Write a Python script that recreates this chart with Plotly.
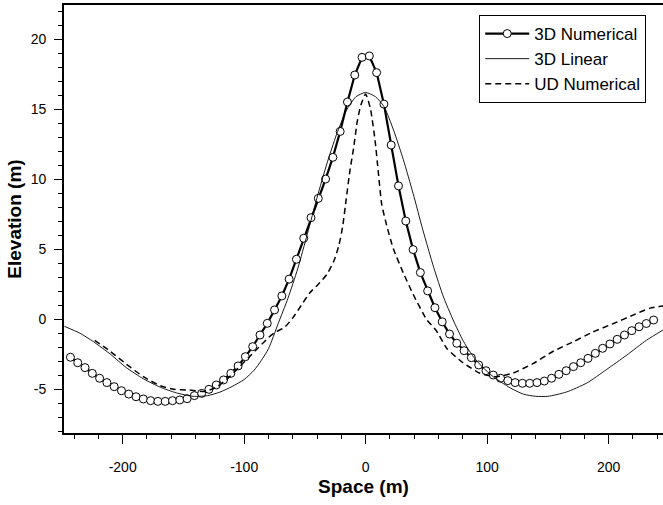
import plotly.graph_objects as go

# ---- data ----
num3d_x = [-243, -237, -231, -225, -219, -213, -207, -201, -195, -189, -183, -177, -171, -165,
           -159, -153, -147, -141, -135, -129, -123, -117, -111, -105, -99, -93, -87, -81, -75,
           -69, -63, -57, -51, -45, -39, -33, -27, -21, -15, -9, -3, 3, 9, 15, 21, 27, 33, 39,
           45, 51, 57, 63, 69, 75, 81, 87, 93, 99, 105, 111, 117, 123, 129, 135, 141, 147, 153,
           159, 165, 171, 177, 183, 189, 195, 201, 207, 213, 219, 225, 231, 237]
num3d_y = [-2.71, -3.10, -3.45, -3.86, -4.21, -4.52, -4.81, -5.10, -5.34, -5.53, -5.69, -5.81,
           -5.86, -5.86, -5.81, -5.76, -5.67, -5.45, -5.29, -5.00, -4.69, -4.33, -3.86, -3.33,
           -2.67, -1.95, -1.12, -0.29, 0.67, 1.67, 2.87, 4.29, 5.79, 7.26, 8.64, 10.02, 11.57,
           13.42, 15.52, 17.45, 18.71, 18.81, 17.62, 15.37, 12.45, 9.53, 7.02, 4.98, 3.34, 2.03,
           0.83, -0.18, -1.05, -1.71, -2.24, -2.74, -3.26, -3.67, -3.98, -4.21, -4.38, -4.52,
           -4.57, -4.57, -4.52, -4.41, -4.21, -3.93, -3.67, -3.38, -3.10, -2.79, -2.43, -2.07,
           -1.76, -1.43, -1.12, -0.81, -0.53, -0.30, -0.05]

lin3d_x = [-248, -235, -224, -210, -197, -183, -169, -156, -142, -130, -120, -110, -100, -92,
           -86, -80, -72, -64, -56, -48, -40, -32, -24, -16, -8, 0, 8, 15, 23, 31, 39, 47, 56,
           64, 72, 80, 88, 96, 105, 119, 130, 140, 150, 165, 182, 198, 215, 231, 245]
lin3d_y = [-0.5, -1.0, -1.6, -2.5, -3.45, -4.25, -4.85, -5.25, -5.5, -5.45, -5.2, -4.8, -4.3,
           -3.65, -2.95, -2.1, -0.3, 1.5, 3.6, 6.1, 8.7, 11.1, 13.2, 14.9, 15.9, 16.2, 15.9,
           15.2, 13.5, 11.4, 9.0, 6.4, 3.7, 1.6, -0.05, -1.5, -2.6, -3.4, -4.1, -4.9, -5.35,
           -5.5, -5.5, -5.2, -4.55, -3.6, -2.55, -1.5, -0.75]

ud_x = [-223, -210, -197, -183, -169, -158, -145, -132, -122, -112, -104, -96, -88, -80, -74,
        -67, -60, -53, -46, -39, -32, -26, -22, -19, -16, -13, -10, -7, -4, 0, 4, 7.7, 10.4,
        13.2, 17.3, 22.7, 31, 39, 50, 58, 67, 80, 94, 108, 121, 138, 154, 171, 187, 204, 220,
        234, 245]
ud_y = [-1.5, -2.3, -3.2, -4.1, -4.75, -5.0, -5.05, -5.15, -4.8, -4.1, -3.4, -2.7, -2.0, -1.3,
        -0.9, -0.6, 0.1, 1.0, 1.9, 2.5, 3.2, 4.2, 5.3, 6.6, 8.6, 10.6, 12.2, 14.1, 15.3, 16.1,
        15.0, 12.8, 10.5, 8.2, 6.7, 5.05, 3.3, 1.8, 0.0, -0.8, -2.1, -3.1, -3.85, -4.1, -3.85,
        -3.15, -2.3, -1.6, -0.9, -0.3, 0.3, 0.8, 0.95]

x_ticks = [-200, -100, 0, 100, 200]
y_ticks = [-5, 0, 5, 10, 15, 20]

FONT = "Liberation Sans, Arial, Helvetica, sans-serif"

fig = go.Figure()
fig.add_trace(go.Scatter(
    x=num3d_x, y=num3d_y, name="3D Numerical", mode="lines+markers",
    line=dict(color="black", width=2.2),
    marker=dict(symbol="circle", size=8, color="white", line=dict(color="black", width=1)),
))
fig.add_trace(go.Scatter(
    x=lin3d_x, y=lin3d_y, name="3D Linear", mode="lines",
    line=dict(color="black", width=0.9, shape="spline", smoothing=0.6),
))
fig.add_trace(go.Scatter(
    x=ud_x, y=ud_y, name="UD Numerical", mode="lines",
    line=dict(color="black", width=1.5, dash="6px,4px", shape="spline", smoothing=0.5),
))

fig.update_layout(
    width=663, height=505,
    margin=dict(l=64, r=0, t=5, b=72),
    paper_bgcolor="white", plot_bgcolor="white",
    font=dict(family=FONT, color="black", size=14),
    showlegend=True,
    legend=dict(
        x=0.972, xref="paper", xanchor="right",
        y=1 - (15 - 5) / 428, yanchor="top",
        bordercolor="black", borderwidth=1, bgcolor="white",
        font=dict(family=FONT, size=17, color="black"),
        itemwidth=44, tracegroupgap=0,
    ),
)

fig.update_xaxes(
    range=[-248.3, 244.7], tickvals=x_ticks, ticktext=[str(v) for v in x_ticks],
    showgrid=False, zeroline=False,
    showline=True, linecolor="black", linewidth=1.8, mirror=True,
    ticks="outside", ticklen=9, tickwidth=1, tickcolor="black",
    minor=dict(dtick=20, tick0=0, ticks="outside", ticklen=4, tickcolor="black", tickwidth=1),
    ticklabelstandoff=11,
    tickfont=dict(family=FONT, size=14),
    title=dict(text="<b>Space (m)</b>", font=dict(family=FONT, size=19), standoff=6),
)
fig.update_yaxes(
    range=[-8.12, 22.45], tickvals=y_ticks, ticktext=[str(v) for v in y_ticks],
    showgrid=False, zeroline=False,
    showline=True, linecolor="black", linewidth=1.8, mirror=False,
    ticks="outside", ticklen=8, tickwidth=1, tickcolor="black",
    minor=dict(dtick=1, tick0=0, ticks="outside", ticklen=4, tickcolor="black", tickwidth=1),
    ticklabelstandoff=5,
    tickfont=dict(family=FONT, size=14),
    title=dict(text="<b>Elevation (m)</b>", font=dict(family=FONT, size=19), standoff=4),
)

fig.write_html("out.html")
